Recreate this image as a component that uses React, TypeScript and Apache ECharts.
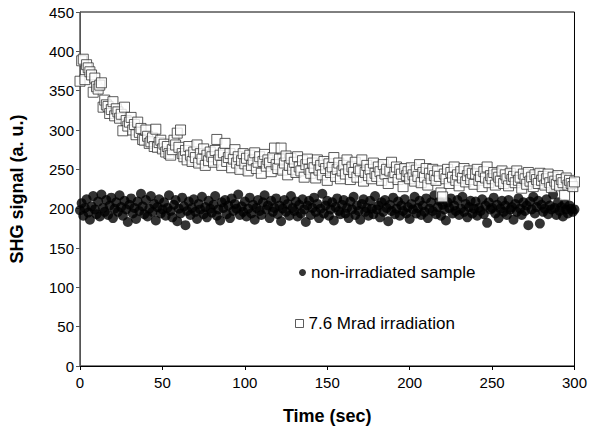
import React, { useEffect, useRef } from "react";
import * as echarts from "echarts";

// Time step of the recorded traces (seconds)
const timeStepSec = 1;

const nonIrradiated: number[] = [
  198, 207, 191, 201, 212, 195, 186, 203, 216, 199, 193, 209, 190, 218, 201, 196, 211, 192, 204, 214,
  188, 200, 208, 196, 217, 202, 191, 210, 199, 183, 205, 213, 194, 201, 187, 209, 197, 219, 203, 193,
  211, 190, 200, 216, 196, 206, 185, 202, 212, 194, 199, 208, 191, 201, 217, 197, 189, 205, 211, 184,
  200, 194, 214, 203, 179, 197, 209, 192, 201, 212, 196, 187, 206, 199, 215, 193, 202, 189, 210, 200,
  195, 205, 216, 191, 199, 185, 208, 201, 211, 193, 204, 188, 213, 197, 206, 200, 218, 192, 203, 196,
  209, 190, 200, 214, 194, 205, 186, 201, 211, 197, 192, 208, 217, 199, 204, 188, 210, 196, 201, 213,
  193, 204, 184, 200, 211, 196, 206, 191, 216, 201, 197, 209, 190, 205, 194, 212, 199, 183, 204, 210,
  192, 201, 214, 196, 206, 188, 200, 219, 194, 204, 210, 191, 199, 208, 185, 202, 213, 197, 193, 205,
  211, 194, 201, 188, 209, 199, 215, 192, 204, 197, 186, 206, 212, 196, 201, 191, 210, 200, 193, 216,
  199, 204, 189, 208, 196, 211, 201, 184, 205, 197, 214, 193, 200, 209, 191, 204, 197, 212, 194, 202,
  187, 206, 199, 215, 194, 201, 210, 192, 204, 196, 213, 188, 200, 208, 197, 217, 193, 202, 210, 191,
  205, 199, 185, 208, 201, 213, 194, 204, 197, 211, 192, 200, 215, 196, 206, 189, 202, 210, 194, 200,
  209, 191, 201, 197, 212, 193, 204, 182, 208, 199, 201, 214, 194, 205, 188, 200, 210, 196, 204, 192,
  211, 199, 202, 186, 206, 196, 213, 200, 192, 208, 197, 204, 179, 209, 199, 215, 194, 202, 210, 181,
  205, 196, 200, 212, 193, 204, 199, 218, 201, 192, 208, 197, 202, 190, 206, 199, 194, 204, 200, 196,
  199,
];

const irradiated: number[] = [
  362, 388, 390, 364, 383, 379, 374, 370, 348, 366, 355, 352, 357, 360, 329, 338, 332, 330, 321, 326,
  336, 318, 327, 323, 315, 320, 299, 329, 312, 305, 310, 316, 300, 307, 294, 310, 297, 302, 288, 287,
  300, 292, 283, 285, 290, 279, 301, 278, 284, 287, 276, 282, 272, 279, 270, 268, 275, 287, 281, 296,
  278, 300, 270, 266, 274, 262, 279, 268, 260, 272, 265, 281, 258, 270, 263, 276, 255, 268, 261, 272,
  266, 259, 274, 288, 262, 268, 255, 271, 283, 260, 265, 270, 252, 263, 275, 258, 266, 250, 261, 270,
  257, 264, 248, 268, 255, 262, 271, 251, 259, 266, 245, 260, 269, 254, 262, 258, 247, 265, 277, 256,
  251, 263, 277, 249, 258, 267, 243, 255, 264, 250, 259, 246, 266, 253, 248, 261, 240, 256, 263, 250,
  245, 258, 252, 239, 262, 249, 255, 243, 260, 251, 236, 257, 246, 253, 265, 241, 250, 258, 238, 248,
  255, 244, 262, 250, 237, 253, 246, 259, 240, 251, 248, 262, 235, 246, 255, 242, 250, 238, 258, 245,
  241, 253, 247, 236, 256, 244, 250, 232, 248, 259, 240, 246, 253, 237, 250, 244, 228, 251, 242, 247,
  238, 252, 243, 235, 249, 241, 256, 233, 246, 240, 251, 230, 245, 238, 250, 242, 236, 248, 241, 220,
  215, 244, 238, 250, 232, 246, 240, 253, 236, 243, 229, 247, 239, 251, 234, 242, 248, 237, 245, 231,
  244, 250, 236, 241, 228, 247, 239, 253, 233, 242, 238, 246, 230, 244, 240, 235, 248, 232, 243, 238,
  229, 245, 237, 241, 233, 248, 236, 240, 226, 244, 238, 231, 246, 235, 240, 228, 243, 237, 232, 245,
  236, 241, 230, 238, 244, 233, 227, 240, 235, 231, 242, 229, 237, 233, 217, 239, 230, 236, 232, 228,
  234,
];

const seriesNames = ["non-irradiated sample", "7.6 Mrad irradiation"];
const xTitle = "Time (sec)";
const yTitle = "SHG signal (a. u.)";

const toPairs = (vals: number[]) => vals.map((v, i) => [i * timeStepSec, v]);

export default function App() {
  const ref = useRef<HTMLDivElement>(null);
  useEffect(() => {
    if (!ref.current) return;
    const chart = echarts.init(ref.current, null, { renderer: "svg" });
    const font = "Arial, 'Liberation Sans', sans-serif";
    chart.setOption({
      animation: false,
      backgroundColor: "#fff",
      textStyle: { fontFamily: font },
      grid: {
        left: 72,
        right: 14,
        top: 12,
        bottom: 65,
        show: true,
        borderColor: "#000",
        borderWidth: 1,
        backgroundColor: "transparent",
      },
      legend: [
        {
          left: 294,
          top: 259,
          itemWidth: 7,
          itemHeight: 7,
          itemGap: 6,
          textStyle: { fontSize: 17, color: "#000", fontFamily: font },
          data: [{ name: seriesNames[0], icon: "circle", itemStyle: { color: "#000" } }],
        },
        {
          left: 290,
          top: 310,
          itemWidth: 8,
          itemHeight: 8,
          textStyle: { fontSize: 17, color: "#000", fontFamily: font },
          data: [
            {
              name: seriesNames[1],
              icon: "rect",
              itemStyle: { color: "#fff", borderColor: "#333", borderWidth: 1 },
            },
          ],
        },
      ],
      xAxis: {
        type: "value",
        min: 0,
        max: 300,
        interval: 50,
        name: xTitle,
        nameLocation: "middle",
        nameGap: 41,
        nameTextStyle: { fontSize: 18, fontWeight: "bold", color: "#000", fontFamily: font },
        axisLine: { lineStyle: { color: "#000", width: 1 } },
        axisTick: { show: true, length: 4, lineStyle: { color: "#000" } },
        axisLabel: { fontSize: 15, color: "#000", margin: 9, fontFamily: font },
        splitLine: { show: false },
      },
      yAxis: {
        type: "value",
        min: 0,
        max: 450,
        interval: 50,
        name: yTitle,
        nameLocation: "middle",
        nameGap: 54,
        nameRotate: 90,
        nameTextStyle: { fontSize: 18, fontWeight: "bold", color: "#000", fontFamily: font },
        axisLine: { show: true, lineStyle: { color: "#555", width: 1 } },
        axisTick: { show: true, length: 4, lineStyle: { color: "#555" } },
        axisLabel: { fontSize: 15, color: "#000", margin: 6, fontFamily: font },
        splitLine: { show: false },
      },
      series: [
        {
          name: seriesNames[0],
          type: "scatter",
          symbol: "circle",
          symbolSize: 10,
          itemStyle: { color: "#000" },
          data: toPairs(nonIrradiated),
          z: 2,
        },
        {
          name: seriesNames[1],
          type: "scatter",
          symbol: "rect",
          symbolSize: 10,
          itemStyle: { color: "#fff", borderColor: "#333", borderWidth: 1 },
          data: toPairs(irradiated),
          z: 3,
        },
      ],
    });
    return () => chart.dispose();
  }, []);
  return <div ref={ref} style={{ width: 590, height: 431, position: "absolute", left: 0, top: 0 }} />;
}
